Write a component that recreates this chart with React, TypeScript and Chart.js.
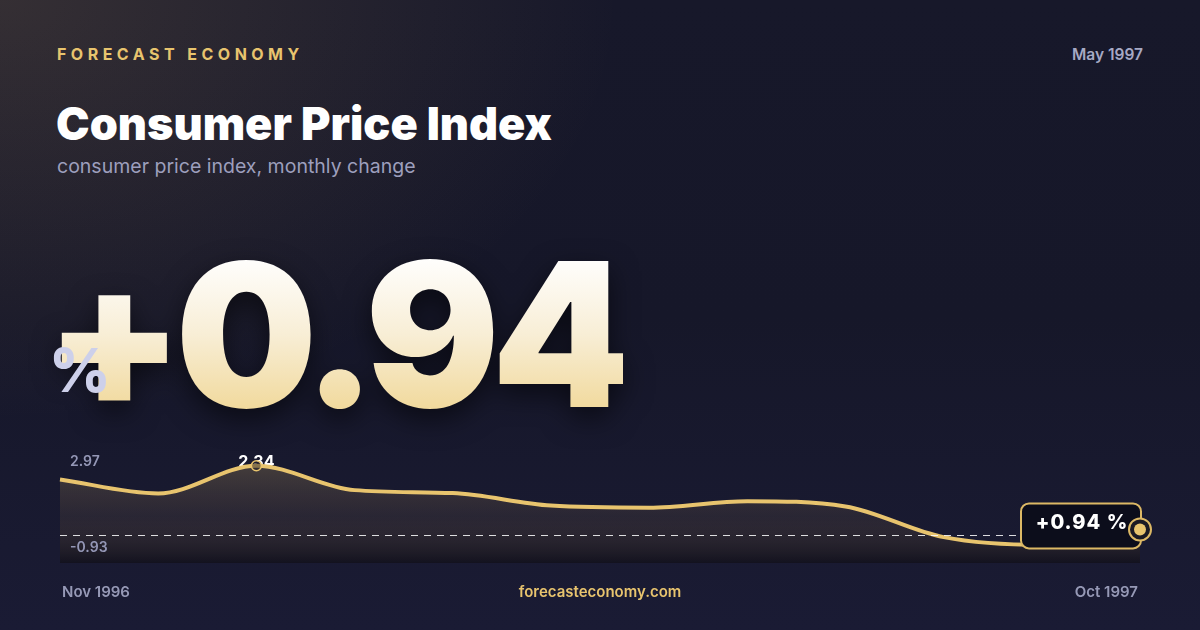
import React, { useEffect, useRef } from "react";
import { Chart, registerables } from "chart.js";

Chart.register(...registerables);

const months = [
  "Nov 1996", "Dec 1996", "Jan 1997", "Feb 1997", "Mar 1997", "Apr 1997",
  "May 1997", "Jun 1997", "Jul 1997", "Aug 1997", "Sep 1997", "Oct 1997",
];
const cpiChange = [1.88, 1.41, 2.34, 1.52, 1.42, 1.0, 0.93, 1.15, 0.97, -0.06, -0.32, 0.2];
const axisMin = -0.93;
const axisMax = 2.97;
const axisLabels = ["2.97", "-0.93"];
const headlineValue = "+0.94";
const headlineUnit = "%";
const reportMonth = "May 1997";
const brand = "FORECAST ECONOMY";
const site = "forecasteconomy.com";
const title = "Consumer Price Index";
const subtitle = "consumer price index, monthly change";

const GOLD = "#e8c46e";
const FONT = "Inter, 'Noto Sans', sans-serif";

const overlayPlugin = {
  id: "overlay",
  beforeDatasetsDraw(chart: any) {
    const ctx = chart.ctx;
    const meta = chart.getDatasetMeta(0);
    let maxIdx = 0;
    cpiChange.forEach((v, i) => {
      if (v > cpiChange[maxIdx]) maxIdx = i;
    });
    const p = meta.data[maxIdx];
    ctx.save();
    ctx.font = `700 16px ${FONT}`;
    ctx.fillStyle = "#ffffff";
    ctx.textAlign = "center";
    ctx.textBaseline = "alphabetic";
    ctx.fillText(cpiChange[maxIdx].toFixed(2), p.x, p.y + 1);
    ctx.restore();
  },
  afterDatasetsDraw(chart: any) {
    const ctx = chart.ctx;
    const area = chart.chartArea;
    const y0 = chart.scales.y.getPixelForValue(0);
    ctx.save();
    // zero line
    ctx.strokeStyle = "rgba(255,255,255,0.85)";
    ctx.lineWidth = 1;
    ctx.setLineDash([7, 6]);
    ctx.beginPath();
    ctx.moveTo(area.left, Math.round(y0) + 0.5);
    ctx.lineTo(area.right, Math.round(y0) + 0.5);
    ctx.stroke();
    ctx.setLineDash([]);

    // axis range labels
    ctx.font = `600 14px ${FONT}`;
    ctx.fillStyle = "#9497b6";
    ctx.textAlign = "left";
    ctx.textBaseline = "alphabetic";
    ctx.fillText(axisLabels[0], area.left + 10, area.top + 19);
    ctx.fillText(axisLabels[1], area.left + 10, area.bottom - 11);

    // badge at last point
    const meta = chart.getDatasetMeta(0);
    const last = meta.data[meta.data.length - 1];
    const bw = 120;
    const bh = 45;
    const bx = last.x - bw + 1;
    const by = last.y - 26;
    ctx.beginPath();
    ctx.roundRect(bx, by, bw, bh, 8);
    ctx.fillStyle = "#0c0d1b";
    ctx.fill();
    ctx.lineWidth = 2;
    ctx.strokeStyle = "#dcb865";
    ctx.stroke();
    ctx.font = `800 20px ${FONT}`;
    (ctx as any).letterSpacing = "1px";
    ctx.fillStyle = "#ffffff";
    ctx.textAlign = "center";
    ctx.fillText(`${headlineValue} ${headlineUnit}`, bx + bw / 2 + 1, last.y);
    (ctx as any).letterSpacing = "0px";

    // ring + dot
    ctx.beginPath();
    ctx.arc(last.x, last.y, 11, 0, Math.PI * 2);
    ctx.fillStyle = "#1b1a24";
    ctx.fill();
    ctx.lineWidth = 2;
    ctx.strokeStyle = "#dcb865";
    ctx.stroke();
    ctx.beginPath();
    ctx.arc(last.x, last.y, 6, 0, Math.PI * 2);
    ctx.fillStyle = GOLD;
    ctx.fill();
    ctx.restore();
  },
};

function SparkChart() {
  const ref = useRef<HTMLCanvasElement | null>(null);
  useEffect(() => {
    if (!ref.current) return;
    let maxIdx = 0;
    cpiChange.forEach((v, i) => {
      if (v > cpiChange[maxIdx]) maxIdx = i;
    });
    const chart = new Chart(ref.current, {
      type: "line",
      data: {
        labels: months,
        datasets: [
          {
            data: cpiChange,
            borderColor: GOLD,
            borderWidth: 4,
            cubicInterpolationMode: "monotone",
            fill: "start",
            backgroundColor: (c: any) => {
              const area = c.chart.chartArea;
              if (!area) return "rgba(232,196,110,0.2)";
              const g = c.chart.ctx.createLinearGradient(0, area.top, 0, area.bottom);
              g.addColorStop(0, "rgba(232,196,110,0.27)");
              g.addColorStop(0.6, "rgba(120,96,70,0.18)");
              g.addColorStop(1, "rgba(14,12,16,0.55)");
              return g;
            },
            pointRadius: (c: any) => (c.dataIndex === maxIdx ? 5 : 0),
            pointBorderWidth: 1.5,
            pointBorderColor: GOLD,
            pointBackgroundColor: "rgba(40,36,40,0.5)",
            pointHoverRadius: 0,
          } as any,
        ],
      },
      options: {
        animation: false,
        responsive: false,
        layout: { padding: { left: 60, right: 60, top: 27, bottom: 27 } },
        scales: {
          x: { display: false },
          y: { display: false, min: axisMin, max: axisMax },
        },
        plugins: { legend: { display: false }, tooltip: { enabled: false } },
        events: [],
      },
      plugins: [overlayPlugin],
    });
    return () => chart.destroy();
  }, []);
  return (
    <canvas
      ref={ref}
      width={1200}
      height={170}
      style={{ position: "absolute", left: 0, top: 420, width: 1200, height: 170 }}
    />
  );
}

export default function App() {
  const base: React.CSSProperties = {
    position: "absolute",
    fontFamily: FONT,
    lineHeight: 1,
    whiteSpace: "nowrap",
    margin: 0,
  };
  return (
    <div
      style={{
        position: "fixed",
        left: 0,
        top: 0,
        width: 1200,
        height: 630,
        overflow: "hidden",
        background:
          "radial-gradient(ellipse 620px 420px at 0% 0%, rgba(200,160,100,0.17), rgba(200,160,100,0) 100%), linear-gradient(180deg, #17182a 0%, #161729 50%, #1a1b34 100%)",
      }}
    >
      <div
        style={{
          ...base,
          left: 57,
          top: 45.5,
          fontSize: 16,
          fontWeight: 700,
          letterSpacing: "0.28em",
          color: GOLD,
        }}
      >
        {brand}
      </div>
      <div
        style={{
          ...base,
          right: 57,
          top: 47,
          fontSize: 15.5,
          fontWeight: 600,
          color: "#a6a9c4",
        }}
      >
        {reportMonth}
      </div>
      <div
        style={{
          ...base,
          left: 56,
          top: 101,
          fontSize: 45,
          fontWeight: 900,
          letterSpacing: "0em",
          color: "#ffffff",
        }}
      >
        {title}
      </div>
      <div
        style={{
          ...base,
          left: 57,
          top: 156.5,
          fontSize: 19.5,
          fontWeight: 400,
          color: "#9d9fbd",
        }}
      >
        {subtitle}
      </div>
      <div
        style={{
          ...base,
          left: 45,
          top: 234,
          fontSize: 200,
          fontWeight: 900,
          letterSpacing: "-0.0425em",
          background: "linear-gradient(180deg, #ffffff 10%, #f8eed6 50%, #f1d99c 88%)",
          WebkitBackgroundClip: "text",
          backgroundClip: "text",
          color: "transparent",
          filter: "drop-shadow(0px 10px 14px rgba(0,0,0,0.55))",
        }}
      >
        {headlineValue}
      </div>
      <div
        style={{
          ...base,
          left: 49,
          top: 340,
          fontSize: 60,
          fontWeight: 800,
          color: "#cdd0ea",
        }}
      >
        {headlineUnit}
      </div>
      <SparkChart />
      <div
        style={{
          ...base,
          left: 62,
          top: 584,
          fontSize: 15,
          fontWeight: 600,
          color: "#9699b6",
        }}
      >
        {months[0]}
      </div>
      <div
        style={{
          ...base,
          left: 0,
          width: 1200,
          textAlign: "center",
          top: 584,
          fontSize: 15,
          fontWeight: 600,
          color: GOLD,
        }}
      >
        {site}
      </div>
      <div
        style={{
          ...base,
          right: 62,
          top: 584,
          fontSize: 15,
          fontWeight: 600,
          color: "#9699b6",
        }}
      >
        {months[months.length - 1]}
      </div>
    </div>
  );
}
